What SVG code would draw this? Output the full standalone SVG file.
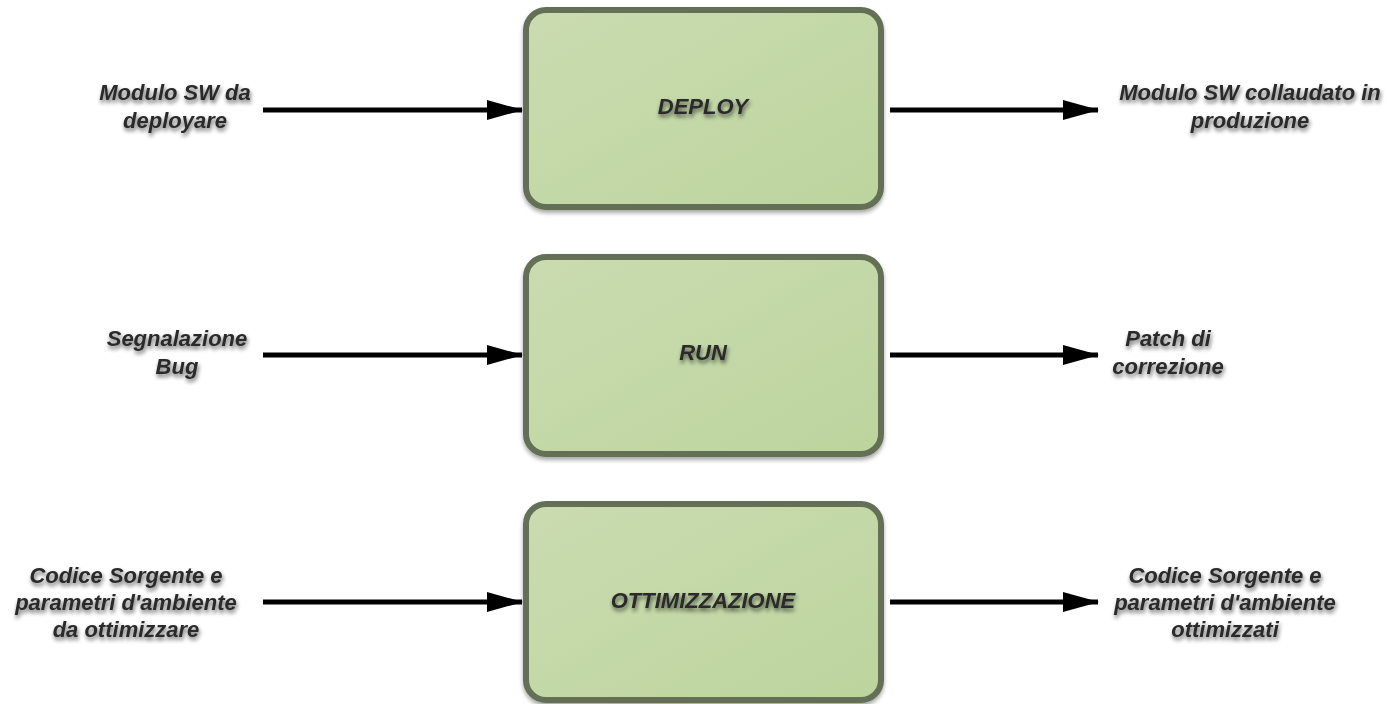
<svg xmlns="http://www.w3.org/2000/svg" width="1389" height="704" viewBox="0 0 1389 704">
<defs>
<linearGradient id="g" x1="0" y1="0" x2="1" y2="1">
<stop offset="0" stop-color="#cadcb0"/>
<stop offset="1" stop-color="#bdd49e"/>
</linearGradient>
<filter id="ts" x="-10%" y="-30%" width="120%" height="160%">
<feGaussianBlur in="SourceAlpha" stdDeviation="2"/>
<feOffset dx="1" dy="3" result="b"/>
<feComponentTransfer><feFuncA type="linear" slope="0.6"/></feComponentTransfer>
<feMerge><feMergeNode/><feMergeNode in="SourceGraphic"/></feMerge>
</filter>
<filter id="bs" x="-5%" y="-5%" width="110%" height="115%">
<feGaussianBlur in="SourceAlpha" stdDeviation="2"/>
<feOffset dx="0" dy="3"/>
<feComponentTransfer><feFuncA type="linear" slope="0.35"/></feComponentTransfer>
<feMerge><feMergeNode/><feMergeNode in="SourceGraphic"/></feMerge>
</filter>
<marker id="ah" markerWidth="36" markerHeight="22" refX="35" refY="11" orient="auto" markerUnits="userSpaceOnUse" viewBox="0 0 36 22">
<path d="M0,1 L36,11 L0,21 Z" fill="#000"/>
</marker>
</defs>
<style>
.box{fill:url(#g);stroke:#646f55;stroke-width:6;filter:url(#bs)}
.t{font-family:"Liberation Sans",Arial,sans-serif;font-weight:bold;font-style:italic;font-size:22px;fill:#2a2a2a;text-anchor:middle;filter:url(#ts)}
.c{stroke:#000;stroke-width:5;fill:none;marker-end:url(#ah)}
</style>
<g id="connectors">
<line class="c" x1="263" y1="110" x2="522" y2="110"/>
<line class="c" x1="890" y1="110" x2="1098" y2="110"/>
<line class="c" x1="263" y1="355" x2="522" y2="355"/>
<line class="c" x1="890" y1="355" x2="1098" y2="355"/>
<line class="c" x1="263" y1="602" x2="522" y2="602"/>
<line class="c" x1="890" y1="602" x2="1098" y2="602"/>
</g>
<g id="deploy">
<rect class="box" x="526" y="10" width="355" height="197" rx="20"/>
<text class="t" x="703" y="114">DEPLOY</text>
</g>
<g id="run">
<rect class="box" x="526" y="257" width="355" height="197" rx="20"/>
<text class="t" x="703" y="360">RUN</text>
</g>
<g id="ottimizzazione">
<rect class="box" x="526" y="504" width="355" height="196" rx="20"/>
<text class="t" x="703" y="608">OTTIMIZZAZIONE</text>
</g>
<g id="in-deploy">
<text class="t" x="175" y="100">Modulo SW da</text>
<text class="t" x="175" y="128">deployare</text>
</g>
<g id="out-deploy">
<text class="t" x="1250" y="100">Modulo SW collaudato in</text>
<text class="t" x="1250" y="128">produzione</text>
</g>
<g id="in-run">
<text class="t" x="177" y="346">Segnalazione</text>
<text class="t" x="177" y="374">Bug</text>
</g>
<g id="out-run">
<text class="t" x="1168" y="346">Patch di</text>
<text class="t" x="1168" y="374">correzione</text>
</g>
<g id="in-ott">
<text class="t" x="126" y="583">Codice Sorgente e</text>
<text class="t" x="126" y="610">parametri d'ambiente</text>
<text class="t" x="126" y="637">da ottimizzare</text>
</g>
<g id="out-ott">
<text class="t" x="1225" y="583">Codice Sorgente e</text>
<text class="t" x="1225" y="610">parametri d'ambiente</text>
<text class="t" x="1225" y="637">ottimizzati</text>
</g>
</svg>
